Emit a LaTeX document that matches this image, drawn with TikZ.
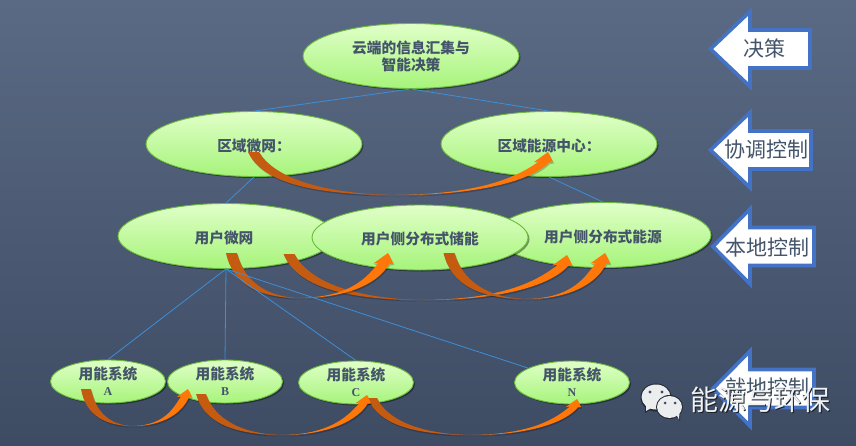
\documentclass[tikz,border=0pt]{standalone}
\usepackage{fontspec}
\usetikzlibrary{shapes.geometric,shadows,calc}
\newfontfamily\cjk{Noto Sans CJK SC}
\newfontfamily\lat{Liberation Serif}
\definecolor{bgtop}{HTML}{5B6A84}
\definecolor{bgbot}{HTML}{3D4B63}
\definecolor{txt}{HTML}{44546A}
\definecolor{edge}{HTML}{6CBB3C}
\definecolor{gtop}{HTML}{E0FFC8}
\definecolor{gbot}{HTML}{A6F47A}
\definecolor{linkc}{HTML}{3C8FD8}
\definecolor{tailc}{HTML}{C55A11}
\definecolor{headc}{HTML}{FF7708}
\definecolor{arrowb}{HTML}{4472C4}
\tikzset{
  oval/.style={ellipse,draw=edge,line width=0.9pt,top color=gtop,bottom color=gbot,
    inner sep=0pt,align=center,text=txt,
    font=\cjk\bfseries\fontsize{14.7}{17}\selectfont,
    drop shadow={shadow xshift=1.5pt,shadow yshift=-1.5pt,opacity=.4,fill=black}},
  big/.style={oval,minimum width=216pt,minimum height=65pt,
    execute at begin node={\rule{0pt}{16pt}}},
  small/.style={oval,minimum width=115pt,minimum height=43pt},
  link/.style={draw=linkc,line width=0.8pt},
  blockarrow/.style={draw=arrowb,line width=3.6pt,fill=white,miter limit=10},
  arrowtext/.style={text=txt,font=\cjk\fontsize{21}{24}\selectfont,inner sep=0pt},
  swooshshadow/.style={drop shadow={shadow xshift=1pt,shadow yshift=-1.5pt,opacity=.22,fill=black}}
}
\newcommand{\letterfont}{\lat\bfseries\fontsize{12}{12}\selectfont}
% start x, start y, start width, mid x, mid y, tip x, tip y, head scale
\newcommand{\swoosh}[8]{%
  \pgfmathsetmacro{\dxa}{#4-#1}\pgfmathsetmacro{\dya}{#5-#2}%
  \pgfmathsetmacro{\dxb}{#6-#4}\pgfmathsetmacro{\dyb}{#5-#7}%
  \fill[tailc,swooshshadow] ({#1-#3/2},#2)
    .. controls ({#1-#3/2+.10*\dxa},{#2+.72*\dya}) and ({#1+.42*\dxa},#5) .. (#4,#5)
    .. controls ({#1+.47*\dxa},{#5-.02*\dya}) and ({#1+#3/2+.10*\dxa},{#2+.58*\dya}) .. ({#1+#3/2},#2) -- cycle;
  \fill[headc,swooshshadow] (#4,#5)
    .. controls ({#4+.55*\dxb},#5) and ({#6+1*#8-.12*\dxb},{#7+10.5*#8+.42*\dyb}) .. ({#6+1*#8},{#7+10.5*#8})
    -- ({#6+5*#8},{#7+10*#8}) -- (#6,#7) -- ({#6-14*#8},{#7+10*#8}) -- ({#6-9*#8},{#7+9.5*#8})
    .. controls ({#6-9*#8-.17*\dxb},{#7+9.5*#8+.42*\dyb}) and ({#4+.52*\dxb},{#5-.025*\dyb}) .. (#4,#5) -- cycle;
}
% tip x, centre y, right x
\newcommand{\blockarrow}[3]{%
  \draw[blockarrow] (#1,#2) -- (750,{#2-37.5}) -- (750,{#2-19}) -- (#3,{#2-19})
    -- (#3,{#2+19}) -- (750,{#2+19}) -- (750,{#2+37.5}) -- cycle;
}
\begin{document}
\begin{tikzpicture}[x=1pt,y=-1pt]
\path[use as bounding box] (0,0) rectangle (856,445);
\shade[top color=bgtop,bottom color=bgbot] (0,0) rectangle (856,445);

% side arrows
\blockarrow{710.5}{49}{810}
\blockarrow{710.5}{150}{811}
\blockarrow{713}{246.5}{814}
\blockarrow{713}{388.5}{814}
\node[arrowtext] (l1) at (764,48) {决策};
\node[arrowtext] (l2) at (766,150) {协调控制};
\node[arrowtext] (l3) at (767,248) {本地控制};
\node[arrowtext] (l4) at (767,388) {就地控制};

% ovals
\node[big] (top) at (411,56) {云端的信息汇集与\\智能决策};
\node[big] (zone1) at (254,144) {区域微网：};
\node[big] (zone2) at (549,144) {区域能源中心：};
\node[big] (user3) at (603,235) {用户侧分布式能源};
\node[big] (user1) at (226,236) {用户微网\hspace{4pt}};
\node[big] (user2) at (420,237.5) {用户侧分布式储能};
\node[small] (sa) at (108,381.5) {用能系统\\[-1pt]{\letterfont A}};
\node[small] (sb) at (225,381.5) {用能系统\\[-1pt]{\letterfont B}};
\node[small] (sc) at (356,382.5) {用能系统\\[-1pt]{\letterfont C}};
\node[small] (sn) at (572,382.5) {用能系统\\[-1pt]{\letterfont N}};

% curved arrows
\swoosh{253.5}{152}{11}{397}{195}{548}{152}{1}
\swoosh{289}{254}{11}{425}{300}{567}{255}{1.05}
\swoosh{231.5}{253}{11}{300}{298}{388}{253}{1.05}
\swoosh{449}{253}{11}{527}{299}{605}{253}{1.05}
\swoosh{86}{389}{10}{133}{426}{188}{389}{.8}
\swoosh{372.5}{398}{9}{472}{435}{577}{399}{.8}
\swoosh{201}{394}{10}{283}{435}{367}{395}{.8}

% links
\draw[link] (top.south) -- (zone1.north);
\draw[link] (top.south) -- (zone2.north);
\draw[link] (zone1.south) -- (user1.north);
\draw[link] (zone2.south) -- (user3.north);
\draw[link] (user1.south) -- (sa.north);
\draw[link] (user1.south) -- (sb.north);
\draw[link] (user1.south) -- (sc.north);
\draw[link] (user1.south) -- (sn);

% watermark
\fill[black!45!bgbot] (656,397.5) ellipse [x radius=15.5,y radius=14];
\fill[black!45!bgbot] (645,406) -- (645,413) -- (653,408) -- cycle;
\fill[white!90!bgbot] (656,397) ellipse [x radius=14.5,y radius=12.5];
\fill[white!90!bgbot] (646,405) -- (646,411) -- (653,407) -- cycle;
\fill[black!45!bgbot] (669.5,407) ellipse [x radius=13.5,y radius=12];
\fill[black!45!bgbot] (675,415) -- (680,421) -- (680,413) -- cycle;
\fill[white!90!bgbot] (669.5,407) ellipse [x radius=12.5,y radius=11];
\fill[white!90!bgbot] (676,414) -- (679,419.5) -- (679.5,412) -- cycle;
\fill[bgbot] (650,392) circle (1.7) (662,392) circle (1.7) (665,403) circle (1.5) (675,403) circle (1.5);
\node[text=black!60!bgbot,inner sep=0pt,font=\cjk\fontsize{28}{30}\selectfont] (wmshadow) at (761,401) {能源与环保};
\node[text=white!92!bgbot,inner sep=0pt,font=\cjk\fontsize{28}{30}\selectfont] (wm) at (760,400) {能源与环保};
\end{tikzpicture}
\end{document}
